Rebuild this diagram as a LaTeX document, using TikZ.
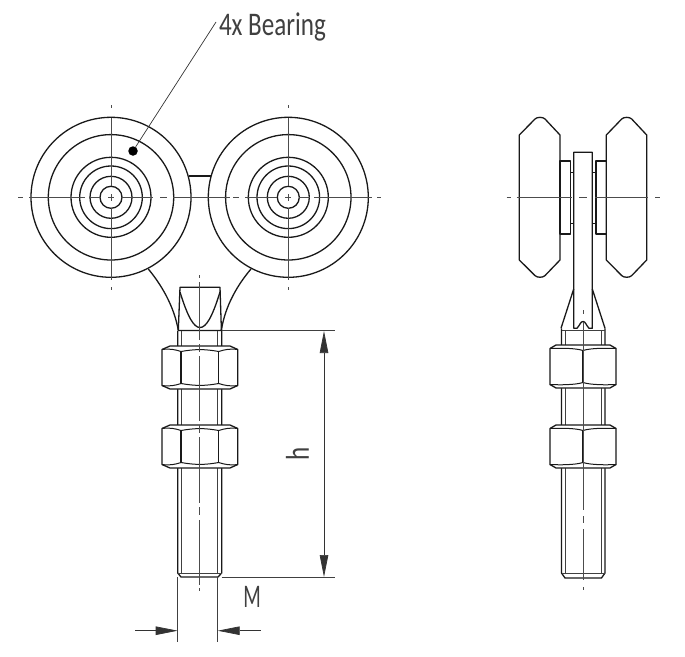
\documentclass[tikz,border=0pt]{standalone}
\usepackage{fontspec}
\setmainfont[FakeStretch=0.76]{Carlito}
\newfontfamily\narrowfont[FakeStretch=0.62]{Carlito}
\usetikzlibrary{arrows.meta}
\tikzset{
  x=1pt,y=-1pt,
  body/.style={line width=1.3pt,black!90,line join=round},
  fine/.style={line width=0.7pt,black!75},
  axis/.style={line width=0.7pt,black!70},
  dimtip/.style={-{Triangle[length=22pt,width=8.5pt]},line width=0.7pt,black!80,shorten >=0pt},
  lbl/.style={inner sep=0pt,outer sep=0pt,font=\fontsize{33}{33}\selectfont,text=black!75}
}
\newcommand{\frontnut}[1]{%
  \draw[body,fill=white] (162,#1+3.5) -- (170,#1) -- (230,#1) -- (237.7,#1+3.5) -- (237.7,#1+39.5) -- (230,#1+43) -- (170,#1+43) -- (162,#1+39.5) -- cycle;
  \draw[body,line width=1pt] (162,#1+3.5) .. controls (170,#1+2.5) and (175,#1+3.5) .. (181,#1+5.5)
     .. controls (195,#1+3) and (205,#1+3) .. (218.7,#1+5.5)
     .. controls (225,#1+3.5) and (230,#1+2.5) .. (237.7,#1+3.5);
  \draw[body,line width=1pt] (162,#1+39.5) .. controls (170,#1+40.5) and (175,#1+39.5) .. (181,#1+37.5)
     .. controls (195,#1+40) and (205,#1+40) .. (218.7,#1+37.5)
     .. controls (225,#1+39.5) and (230,#1+40.5) .. (237.7,#1+39.5);
  \draw[body,line width=1.1pt] (181,#1+5.5) -- (181,#1+37.5) (218.7,#1+5.5) -- (218.7,#1+37.5);
}
\newcommand{\sidenut}[1]{%
  \draw[body,fill=white] (550,#1+3.5) -- (556,#1) -- (610,#1) -- (616,#1+3.5) -- (616,#1+39.5) -- (610,#1+43) -- (556,#1+43) -- (550,#1+39.5) -- cycle;
  \draw[body,line width=1pt] (550,#1+3.5) .. controls (560,#1+3) and (575,#1+3) .. (583,#1+5.5)
     .. controls (591,#1+3) and (606,#1+3) .. (616,#1+3.5);
  \draw[body,line width=1pt] (550,#1+39.5) .. controls (560,#1+40) and (575,#1+40) .. (583,#1+37.5)
     .. controls (591,#1+40) and (606,#1+40) .. (616,#1+39.5);
  \draw[body,line width=1.1pt] (583,#1+5.5) -- (583,#1+37.5);
}
\newcommand{\wheelfront}[1]{%
  \foreach \r in {80,62.7,40,31.3,21,11} \draw[body] (#1,197.3) circle[radius=\r];
  \draw[axis] (#1,105) -- (#1,108) (#1,118) -- (#1,186.3) (#1,194) -- (#1,200.6) (#1,208.3) -- (#1,280) (#1,287) -- (#1,290);
  \draw[axis] (#1-3,197.3) -- (#1+3,197.3);
}
\begin{document}
\begin{tikzpicture}
\useasboundingbox (0,0) rectangle (685,656);
% ---------- front view ----------
\draw[body] (189,176) -- (211,176);
\draw[body] (148.3,269) .. controls (160,283) and (174,305) .. (178.3,330.5);
\draw[body] (251,269) .. controls (239,283) and (225,305) .. (221.4,330.5);
\wheelfront{111}
\wheelfront{288.3}
\draw[axis] (18,197.3) -- (23,197.3) (29,197.3) -- (85,197.3) (89,197.3) -- (100,197.3)
  (122,197.3) -- (153,197.3) (160,197.3) -- (167,197.3) (173,197.3) -- (230,197.3)
  (233,197.3) -- (239,197.3) (245,197.3) -- (277.3,197.3) (299.3,197.3) -- (310,197.3)
  (314,197.3) -- (372,197.3) (377,197.3) -- (381,197.3);
% bolt head
\draw[body] (178.3,330.5) -- (180,287.3) -- (220,287.3) -- (221.4,330.5) -- cycle;
\draw[body] (180,292) .. controls (188,318) and (194,327.5) .. (200,327.5) .. controls (206,327.5) and (212,318) .. (220,292);
% stem
\draw[body] (177.7,331) -- (177.7,573) -- (181,577) -- (218,577) -- (221.7,573) -- (221.7,331);
\draw[fine] (181.7,331) -- (181.7,573.5) (217.7,331) -- (217.7,573.5);
\draw[fine] (177.7,573) -- (221.7,573);
\frontnut{346}
\frontnut{425}
\draw[axis] (199.5,275) -- (199.5,278) (199.5,282) -- (199.5,340) (199.5,344) -- (199.5,352)
  (199.5,356) -- (199.5,421) (199.5,425) -- (199.5,433) (199.5,437) -- (199.5,503)
  (199.5,507) -- (199.5,515) (199.5,520) -- (199.5,585) (199.5,588) -- (199.5,591);
% dimensions
\coordinate (hT) at (324,331);
\coordinate (hB) at (324,577);
\coordinate (hM) at (324,454);
\coordinate (mL) at (177.7,630.7);
\coordinate (mR) at (217.7,630.7);
\coordinate (mLo) at (135,630.7);
\coordinate (mRo) at (260.7,630.7);
\draw[fine] (221.7,330.7) -- (335,330.7);
\draw[fine] (221.7,577) -- (335,577);
\draw[fine] (177.7,577) -- (177.7,641.7);
\draw[fine] (217.7,577) -- (217.7,641.7);
\draw[dimtip] (hM) -- (hT);
\draw[dimtip] (hM) -- (hB);
\draw[dimtip] (mLo) -- (mL);
\draw[dimtip] (mRo) -- (mR);
\node[lbl,rotate=90] (hlabel) at (297.5,454) {h};
\node[lbl] (mlabel) at (252,597) {\narrowfont M};
% leader
\node[circle,fill=black,inner sep=0pt,minimum size=9.5pt] (bearingdot) at (133,151) {};
\node[lbl,anchor=west] (bearinglabel) at (219,26.5) {4x Bearing};
\coordinate (leaderend) at (216,22);
\draw[line width=0.7pt,black!80] (bearingdot) -- (leaderend);
% ---------- side view ----------
\draw[body] (519.3,135) -- (535,119) .. controls (537,116.8) and (543,116.8) .. (545,119) -- (560,135) -- (560,260) -- (545,275.6) .. controls (543,277.8) and (537,277.8) .. (535,275.6) -- (519.3,260) -- cycle;
\draw[body] (606.3,135) -- (621.7,119) .. controls (623.7,116.8) and (629.7,116.8) .. (631.7,119) -- (646.7,135) -- (646.7,260) -- (631.7,275.6) .. controls (629.7,277.8) and (623.7,277.8) .. (621.7,275.6) -- (606.3,260) -- cycle;
\draw[body] (560,161) rectangle (570.6,234);
\draw[body] (596,161) rectangle (606.3,234);
\draw[body,line width=1pt] (570.6,172.3) -- (573.7,172.3) (570.6,223.3) -- (573.7,223.3) (592.3,172.3) -- (596,172.3) (592.3,223.3) -- (596,223.3);
\draw[body] (573.7,328.3) -- (573.7,152.3) -- (592.3,152.3) -- (592.3,328.3) -- (589,328.3) .. controls (586,325) and (585.5,321.5) .. (583,321.5) .. controls (580.5,321.5) and (580,325) .. (577,328.3) -- cycle;
\draw[body] (573.7,289) -- (561,328.3) (592.3,289) -- (605,328.3);
% side stem
\draw[body] (561.5,328.3) -- (561.5,573) -- (565,578) -- (601.5,578) -- (605,573) -- (605,328.3);
\draw[fine] (565.5,331) -- (565.5,573.5) (601,331) -- (601,573.5);
\draw[fine] (561.5,330.7) -- (605,330.7);
\draw[fine] (561.5,573.3) -- (605,573.3);
\sidenut{345}
\sidenut{425}
\draw[axis] (506.7,197.3) -- (510.7,197.3) (516.7,197.3) -- (571.7,197.3) (579.3,197.3) -- (587.3,197.3) (595,197.3) -- (648.3,197.3) (655,197.3) -- (660,197.3);
\draw[axis] (583,310) -- (583,313.5) (583,322) -- (583,510) (583,516) -- (583,523) (583,529) -- (583,580) (583,587) -- (583,590);
\end{tikzpicture}
\end{document}
